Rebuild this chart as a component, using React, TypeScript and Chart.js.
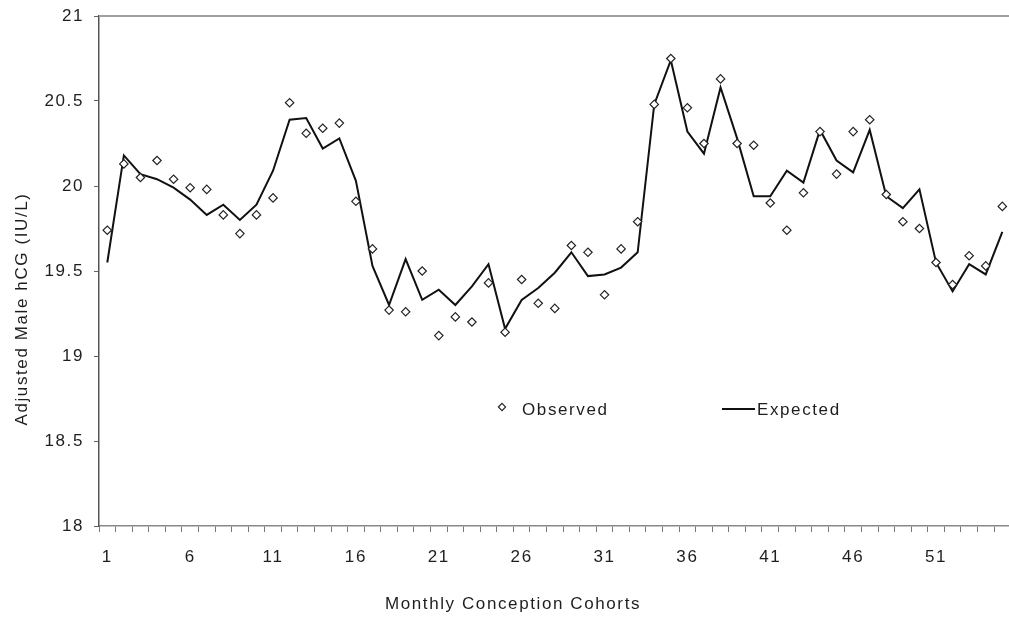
import React, { useEffect, useRef } from "react";
import { Chart, registerables } from "chart.js";

Chart.register(...registerables);

const categories = [
  "1", "2", "3", "4", "5", "6", "7", "8", "9", "10",
  "11", "12", "13", "14", "15", "16", "17", "18", "19", "20",
  "21", "22", "23", "24", "25", "26", "27", "28", "29", "30",
  "31", "32", "33", "34", "35", "36", "37", "38", "39", "40",
  "41", "42", "43", "44", "45", "46", "47", "48", "49", "50",
  "51", "52", "53", "54", "55",
];

const xTickLabels = ["1", "6", "11", "16", "21", "26", "31", "36", "41", "46", "51"];
const yTickValues = [18, 18.5, 19, 19.5, 20, 20.5, 21];

const observed = [
  19.74, 20.13, 20.05, 20.15, 20.04, 19.99, 19.98, 19.83, 19.72, 19.83,
  19.93, 20.49, 20.31, 20.34, 20.37, 19.91, 19.63, 19.27, 19.26, 19.5,
  19.12, 19.23, 19.2, 19.43, 19.14, 19.45, 19.31, 19.28, 19.65, 19.61,
  19.36, 19.63, 19.79, 20.48, 20.75, 20.46, 20.25, 20.63, 20.25, 20.24,
  19.9, 19.74, 19.96, 20.32, 20.07, 20.32, 20.39, 19.95, 19.79, 19.75,
  19.55, 19.42, 19.59, 19.53, 19.88,
];

const expected = [
  19.55, 20.18, 20.07, 20.04, 19.99, 19.92, 19.83, 19.89, 19.8, 19.89,
  20.09, 20.39, 20.4, 20.22, 20.28, 20.03, 19.53, 19.3, 19.57, 19.33,
  19.39, 19.3, 19.41, 19.54, 19.16, 19.33, 19.4, 19.49, 19.61, 19.47,
  19.48, 19.52, 19.61, 20.48, 20.74, 20.32, 20.19, 20.58, 20.28, 19.94,
  19.94, 20.09, 20.02, 20.33, 20.15, 20.08, 20.33, 19.94, 19.87, 19.98,
  19.55, 19.38, 19.54, 19.48, 19.73,
];

const xTitle = "Monthly Conception Cohorts";
const yTitle = "Adjusted Male hCG (IU/L)";
const legendLabels = ["Observed", "Expected"];

const FONT_FAMILY = "'Liberation Sans', Arial, sans-serif";
const TEXT_COLOR = "#1e1e1e";

const letterSpacingPlugin = {
  id: "letterSpacing",
  beforeDraw(chart: any) {
    (chart.ctx as any).letterSpacing = "1.6px";
  },
};

const frameAndLegendPlugin = {
  id: "frameAndLegend",
  afterDraw(chart: any) {
    const { ctx, chartArea } = chart;
    const { left, top, right } = chartArea;
    ctx.save();
    // top frame line
    ctx.strokeStyle = "#a0a0a0";
    ctx.lineWidth = 2;
    ctx.beginPath();
    ctx.moveTo(left, top);
    ctx.lineTo(right + 4, top);
    ctx.stroke();

    // legend
    const ly = top + 394;
    ctx.fillStyle = "#ffffff";
    ctx.strokeStyle = "#222";
    ctx.lineWidth = 1.1;
    const dx = left + 403;
    const dy = top + 391;
    const r = 3.6;
    ctx.beginPath();
    ctx.moveTo(dx - r, dy);
    ctx.lineTo(dx, dy - r);
    ctx.lineTo(dx + r, dy);
    ctx.lineTo(dx, dy + r);
    ctx.closePath();
    ctx.fill();
    ctx.stroke();

    ctx.strokeStyle = "#111";
    ctx.lineWidth = 2;
    ctx.beginPath();
    ctx.moveTo(left + 623, top + 393);
    ctx.lineTo(left + 656, top + 393);
    ctx.stroke();

    ctx.fillStyle = TEXT_COLOR;
    ctx.font = `17px ${FONT_FAMILY}`;
    (ctx as any).letterSpacing = "1.6px";
    ctx.textBaseline = "middle";
    ctx.textAlign = "left";
    ctx.fillText(legendLabels[0], left + 423, ly + 0.5);
    ctx.fillText(legendLabels[1], left + 658, ly + 0.5);

    // axis titles
    ctx.textAlign = "center";
    ctx.fillText(xTitle, 513, 604);
    ctx.save();
    ctx.translate(22, 309);
    ctx.rotate(-Math.PI / 2);
    ctx.fillText(yTitle, 0, 0);
    ctx.restore();
    ctx.restore();
  },
};

export default function App() {
  const canvasRef = useRef<HTMLCanvasElement | null>(null);

  useEffect(() => {
    if (!canvasRef.current) return;
    const chart = new Chart(canvasRef.current, {
      type: "line",
      data: {
        labels: categories,
        datasets: [
          {
            label: legendLabels[0],
            data: observed,
            showLine: false,
            pointStyle: "rectRot",
            pointRadius: 4.2,
            pointBorderWidth: 1.2,
            pointBackgroundColor: "#ffffff",
            pointBorderColor: "#222",
            borderColor: "#222",
            backgroundColor: "#ffffff",
            order: 0,
          },
          {
            label: legendLabels[1],
            data: expected,
            borderColor: "#111",
            borderWidth: 2,
            pointRadius: 0,
            tension: 0,
            fill: false,
            order: 1,
          },
        ],
      },
      options: {
        responsive: false,
        animation: false,
        events: [],
        layout: { padding: { left: 0, right: 2, top: 16, bottom: 0 } },
        plugins: {
          legend: { display: false },
          tooltip: { enabled: false },
          title: { display: false },
        },
        scales: {
          x: {
            type: "category",
            offset: true,
            grid: {
              display: true,
              offset: true,
              drawOnChartArea: false,
              drawTicks: true,
              tickLength: 6,
              color: "#777",
              lineWidth: 1,
            },
            border: { display: true, color: "#888", width: 1.5 },
            ticks: {
              autoSkip: false,
              maxRotation: 0,
              minRotation: 0,
              padding: 15,
              color: TEXT_COLOR,
              font: { family: FONT_FAMILY, size: 17 },
              callback: (_v: any, i: number) => {
                const lab = categories[i];
                return xTickLabels.includes(lab) ? lab : "";
              },
            },
            title: { display: false },
            afterFit: (scale: any) => {
              scale.height = 92;
              scale.paddingLeft = 0;
              scale.paddingRight = 0;
            },
          },
          y: {
            type: "linear",
            min: 18,
            max: 21,
            grid: {
              display: true,
              drawOnChartArea: false,
              drawTicks: true,
              tickLength: 5,
              color: "#666",
            },
            border: { display: true, color: "#555", width: 1.5 },
            ticks: {
              padding: 10,
              color: TEXT_COLOR,
              font: { family: FONT_FAMILY, size: 17 },
              callback: (v: any) => String(v),
            },
            afterBuildTicks: (scale: any) => {
              scale.ticks = yTickValues.map((v) => ({ value: v }));
            },
            title: { display: false },
            afterFit: (scale: any) => {
              scale.width = 99;
              scale.paddingTop = 0;
              scale.paddingBottom = 0;
            },
          },
        },
      },
      plugins: [letterSpacingPlugin, frameAndLegendPlugin],
    } as any);
    return () => chart.destroy();
  }, []);

  return (
    <div style={{ position: "fixed", left: 0, top: 0, width: 1016, height: 618, background: "#fff" }}>
      <canvas ref={canvasRef} width={1016} height={618} style={{ display: "block" }} />
    </div>
  );
}
